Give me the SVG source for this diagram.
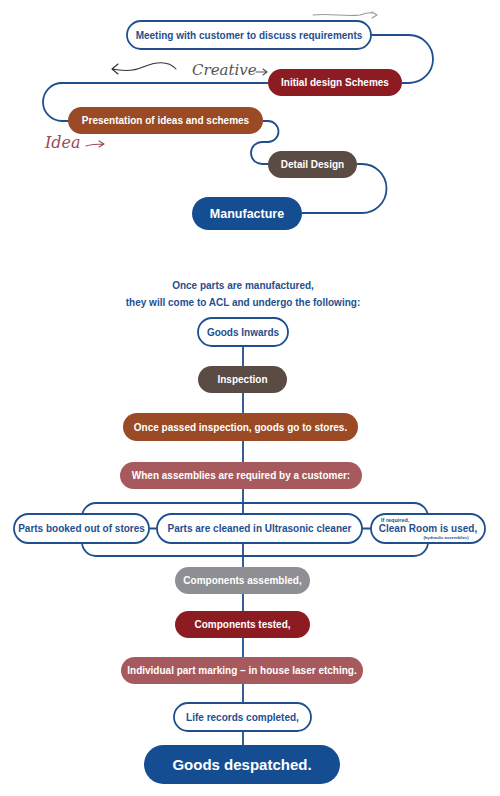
<svg xmlns="http://www.w3.org/2000/svg" width="500" height="796" viewBox="0 0 500 796">
<style>
.t{font-family:"Liberation Sans",Arial,sans-serif;font-weight:bold;font-size:10px;text-anchor:middle;fill:#ffffff}
.tb{fill:#1f4f8f}
.ln{fill:none;stroke:#1f4f8f;stroke-width:1.8}
.wn{fill:#ffffff;stroke:#1f4f8f;stroke-width:1.8}
.hand{font-family:"DejaVu Serif",serif;font-style:italic;font-size:16px}
.sk{fill:none;stroke-width:1.1;stroke-linecap:round;stroke-linejoin:round}
</style>
<rect width="500" height="796" fill="#ffffff"/>
<g id="connectors">
<path class="ln" d="M371,35 H409 A24,24 0 0 1 409,83 H402"/>
<path class="ln" d="M268,83 H62 A19,19 0 0 0 62,121 H70"/>
<path class="ln" d="M263,121 H268 A10.5,10.5 0 0 1 268,142 H262 A11,11 0 0 0 262,164 H270"/>
<path class="ln" d="M357,164 H362 A24.5,24.5 0 0 1 362,213 H302"/>
<path class="ln" d="M243,346 V745"/>
<rect class="ln" x="82" y="503" width="346" height="53" rx="14"/>
<path class="ln" d="M149,528.5 H157 M362,528.5 H371"/>
</g>
<g id="decorations">
<path class="sk" stroke="#999999" d="M313,15 C330,13 345,17 360,15 C365,14 368,12 372,13 M372,12 L377,15 L372,18"/>
<path class="sk" stroke="#333333" d="M176,69 C168,60 155,62 143,67 C132,72 122,71 112,69 M118,64 L112,69 L118,74"/>
<text class="hand" x="192" y="75" fill="#555555" style="font-size:15px">Creative</text>
<path class="sk" stroke="#555555" d="M256,72 H267 M263,69 L267,72 L263,75"/>
<text class="hand" x="45" y="148" fill="#9a4a55">Idea</text>
<path class="sk" stroke="#9a4a55" d="M86,146 C92,144 98,144 104,144 M99,141 L104,144 L99,147"/>
</g>
<g id="n-meeting"><rect class="wn" x="127" y="21" width="244" height="28" rx="14"/><text class="t tb" x="249" y="38.5">Meeting with customer to discuss requirements</text></g>
<g id="n-initial"><rect x="268" y="69" width="134" height="27" rx="13.5" fill="#8c1c22"/><text class="t" x="335" y="86">Initial design Schemes</text></g>
<g id="n-presentation"><rect x="68" y="107" width="195" height="27" rx="13.5" fill="#9a4a24"/><text class="t" x="165.5" y="124">Presentation of ideas and schemes</text></g>
<g id="n-detail"><rect x="268" y="151" width="89" height="27" rx="13.5" fill="#5a4c44"/><text class="t" x="312.5" y="168">Detail Design</text></g>
<g id="n-manufacture"><rect x="192" y="197" width="110" height="33" rx="16.5" fill="#154d92"/><text class="t" x="247" y="218" style="font-size:12.5px">Manufacture</text></g>
<g id="intro">
<text class="t tb" x="243" y="289">Once parts are manufactured,</text>
<text class="t tb" x="243" y="306">they will come to ACL  and undergo the following:</text>
</g>
<g id="n-goods-inwards"><rect class="wn" x="198" y="318" width="90" height="28" rx="14"/><text class="t tb" x="243" y="335.5">Goods Inwards</text></g>
<g id="n-inspection"><rect x="198" y="366" width="89" height="27" rx="13.5" fill="#5a4c44"/><text class="t" x="242.5" y="383">Inspection</text></g>
<g id="n-passed"><rect x="123" y="413" width="235" height="28" rx="14" fill="#9a4a24"/><text class="t" x="240.5" y="430.5">Once passed inspection, goods go to stores.</text></g>
<g id="n-assemblies"><rect x="120" y="462" width="242" height="27" rx="13.5" fill="#a65a5e"/><text class="t" x="241" y="479">When assemblies are required by a customer:</text></g>
<g id="n-booked"><rect class="wn" x="14" y="514" width="135" height="29" rx="14.5"/><text class="t tb" x="81.5" y="532">Parts booked out of stores</text></g>
<g id="n-cleaned"><rect class="wn" x="157" y="514" width="205" height="29" rx="14.5"/><text class="t tb" x="259.5" y="532">Parts are cleaned in Ultrasonic cleaner</text></g>
<g id="n-cleanroom"><rect class="wn" x="371" y="514" width="114" height="29" rx="14.5"/>
<text class="t tb" x="381" y="522" style="font-size:5.5px;text-anchor:start">If required,</text>
<text class="t tb" x="428" y="531.5">Clean Room is used,</text>
<text class="t tb" x="446" y="538.8" style="font-size:4.2px">(hydraulic assemblies)</text></g>
<g id="n-assembled"><rect x="175" y="567" width="135" height="27" rx="13.5" fill="#8e8f92"/><text class="t" x="242.5" y="584">Components assembled,</text></g>
<g id="n-tested"><rect x="175" y="611" width="135" height="27" rx="13.5" fill="#8c1c22"/><text class="t" x="242.5" y="628">Components tested,</text></g>
<g id="n-marking"><rect x="121" y="657" width="242" height="27" rx="13.5" fill="#a65a5e"/><text class="t" x="242" y="674">Individual part marking – in house laser etching.</text></g>
<g id="n-life"><rect class="wn" x="174" y="703" width="137" height="28" rx="14"/><text class="t tb" x="242.5" y="720.5">Life records completed,</text></g>
<g id="n-despatched"><rect x="144" y="745" width="196" height="39" rx="19.5" fill="#154d92"/><text class="t" x="242" y="770" style="font-size:15px">Goods despatched.</text></g>
</svg>
